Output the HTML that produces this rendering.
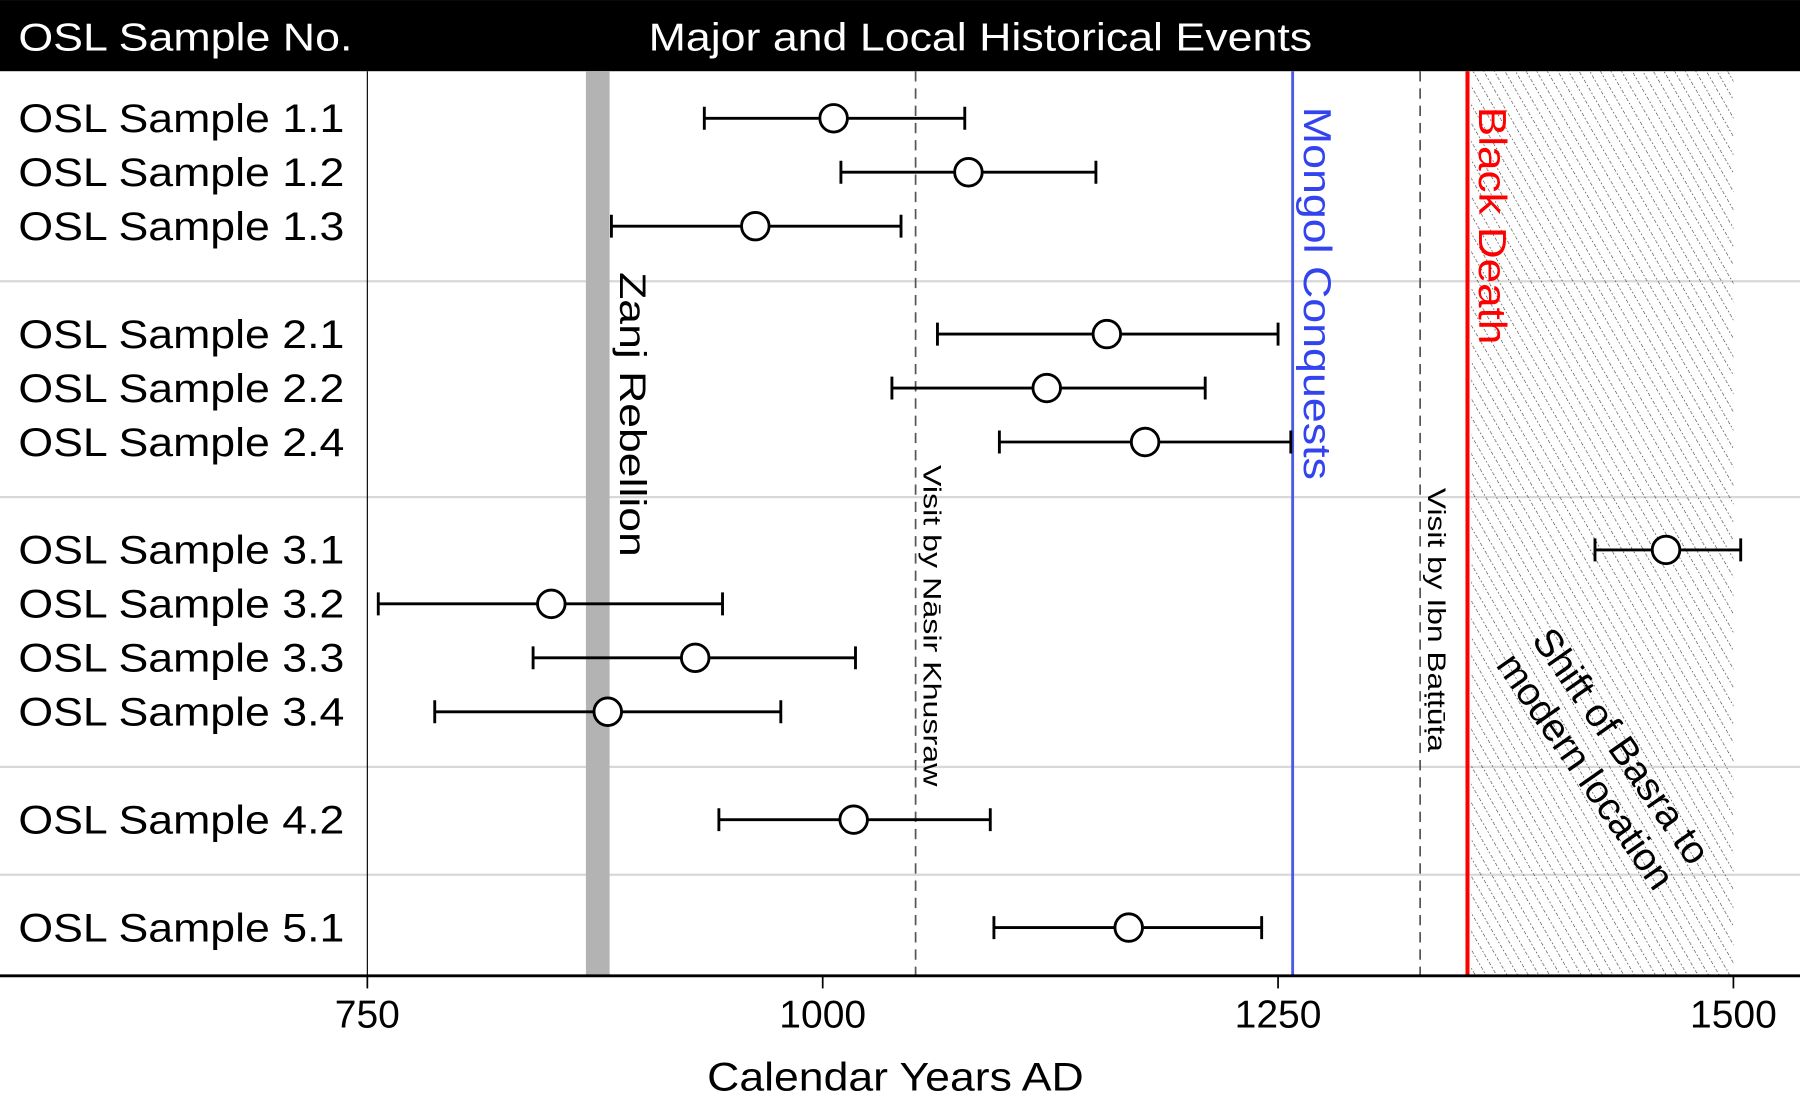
<!DOCTYPE html>
<html><head><meta charset="utf-8"><style>
html,body{margin:0;padding:0;background:#fff}
svg{display:block}
text{font-family:"Liberation Sans",Arial,sans-serif}
</style></head><body>
<svg id="chart" width="1800" height="1109" viewBox="0 0 1568 966" xmlns="http://www.w3.org/2000/svg">
<defs>
<pattern id="hatch" patternUnits="userSpaceOnUse" width="8" height="8" patternTransform="rotate(-30)">
<line x1="0" y1="0" x2="0" y2="8" stroke="#222" stroke-width="1.1" stroke-dasharray="1.3,1.9"/>
</pattern>
</defs>
<rect x="0" y="0" width="1568" height="62" fill="#000"/>
<text x="16" y="44" font-size="34" fill="#fff" textLength="291" lengthAdjust="spacingAndGlyphs">OSL Sample No.</text>
<text x="565" y="44" font-size="34" fill="#fff" textLength="578" lengthAdjust="spacingAndGlyphs">Major and Local Historical Events</text>
<g id="grid"></g>
<g id="events"></g>
<g id="marks"></g>
<g id="axis"></g>
</svg>
<script>
const samples = ["OSL Sample 1.1","OSL Sample 1.2","OSL Sample 1.3","OSL Sample 2.1","OSL Sample 2.2","OSL Sample 2.4","OSL Sample 3.1","OSL Sample 3.2","OSL Sample 3.3","OSL Sample 3.4","OSL Sample 4.2","OSL Sample 5.1"];
const ages = [1006,1080,963,1156,1123,1177,1463,851,930,882,1017,1168];
const lowers = [935,1010,884,1063,1038,1097,1424,756,841,787,943,1094];
const uppers = [1078,1150,1043,1250,1210,1257,1504,945,1018,977,1092,1241];
const groups = [1,1,1,2,2,2,3,3,3,3,4,5];
const xTicks = [750,1000,1250,1500];
const zanj = [870,883];
const nasir = 1051;
const mongol = 1258;
const ibn = 1328;
const blackDeath = 1354;
const basraShift = [1356,1500];

const NS="http://www.w3.org/2000/svg";
const X0=320, X1=1510, Y0=750, Y1=1500;
function xs(v){return X0+(v-Y0)*(X1-X0)/(Y1-Y0);}
const rowStep=47, groupGap=47, topY=103;
function ys(i){return topY + i*rowStep + (groups[i]-1)*groupGap;}
function mk(parent,tag,attrs){const e=document.createElementNS(NS,tag);for(const k in attrs)e.setAttribute(k,attrs[k]);document.getElementById(parent).appendChild(e);return e;}

for(let g=1;g<5;g++){
  let last=-1;groups.forEach((gg,i)=>{if(gg===g)last=i;});
  const y=ys(last)+rowStep+1;
  const l=mk('grid','line',{x1:0,x2:1568,y1:y,y2:y,stroke:'#d8d8d8','stroke-width':2});
  
  
}
const la=mk('grid','line',{x1:X0,x2:X0,y1:62,y2:850,stroke:'#000','stroke-width':1});



let r=mk('events','rect',{x:xs(basraShift[0]),y:62,width:xs(basraShift[1])-xs(basraShift[0]),height:788,fill:'url(#hatch)'});


r=mk('events','rect',{x:xs(zanj[0]),y:62,width:xs(zanj[1])-xs(zanj[0]),height:788,fill:'#b3b3b3'});


let l=mk('events','line',{x1:xs(nasir),x2:xs(nasir),y1:62,y2:850,stroke:'#555','stroke-width':1.5,'stroke-dasharray':'9,6'});


l=mk('events','line',{x1:xs(ibn),x2:xs(ibn),y1:62,y2:850,stroke:'#555','stroke-width':1.5,'stroke-dasharray':'9,6'});


l=mk('events','line',{x1:xs(mongol),x2:xs(mongol),y1:62,y2:850,stroke:'#4b5be8','stroke-width':2.5});


l=mk('events','line',{x1:xs(blackDeath),x2:xs(blackDeath),y1:62,y2:850,stroke:'#f00','stroke-width':3.5});



function vtext(name,txt,x,y,size,color,len){
  const t=mk('events','text',{x:0,y:0,'font-size':size,fill:color,textLength:len,lengthAdjust:'spacingAndGlyphs',transform:`translate(${x},${y}) rotate(90)`});
  t.textContent=txt;
  
  
  return t;
}
vtext('zanj-rebellion-label','Zanj Rebellion',xs(zanj[1])+9,237,32,'#000',248);
vtext('nasir-khusraw-label','Visit by Nāsir Khusraw',xs(nasir)+7,405,22,'#000',280);
vtext('mongol-conquests-label','Mongol Conquests',xs(mongol)+10,93,34,'#3344ee',325);
vtext('ibn-battuta-label','Visit by Ibn Baṭṭūṭa',xs(ibn)+7,425,22,'#000',230);
vtext('black-death-label','Black Death',xs(blackDeath)+10,93,34,'#f00',207);
let bt=mk('events','text',{x:0,y:0,'font-size':34,fill:'#000','text-anchor':'middle',transform:'translate(1398,660) rotate(55)'});


const ts1=document.createElementNS(NS,'tspan');ts1.setAttribute('x',0);ts1.setAttribute('dy','-6');ts1.textContent='Shift of Basra to';bt.appendChild(ts1);
const ts2=document.createElementNS(NS,'tspan');ts2.setAttribute('x',0);ts2.setAttribute('dy','38');ts2.textContent='modern location';bt.appendChild(ts2);

samples.forEach((s,i)=>{
  const y=ys(i);
  const lab=mk('marks','text',{x:16,y:y+12,'font-size':35,fill:'#000',textLength:284,lengthAdjust:'spacingAndGlyphs'});
  lab.textContent=s;
  
  
  const e=mk('marks','path',{d:`M${xs(lowers[i])},${y}H${xs(uppers[i])}M${xs(lowers[i])},${y-10}V${y+10}M${xs(uppers[i])},${y-10}V${y+10}`,stroke:'#000','stroke-width':2.5,fill:'none'});
  
  
  const c=mk('marks','circle',{cx:xs(ages[i]),cy:y,r:12,fill:'#fff',stroke:'#000','stroke-width':2.5});
  
  
});

const ax=mk('axis','line',{x1:0,x2:1568,y1:850,y2:850,stroke:'#000','stroke-width':2.5});


xTicks.forEach(v=>{
  const t=mk('axis','line',{x1:xs(v),x2:xs(v),y1:850,y2:861,stroke:'#000','stroke-width':1.5});
  
  
  const tl=mk('axis','text',{x:xs(v),y:895,'font-size':34,'text-anchor':'middle',fill:'#000'});
  tl.textContent=v;
  
  
});
const at=mk('axis','text',{x:616,y:950,'font-size':35,fill:'#000',textLength:328,lengthAdjust:'spacingAndGlyphs'});
at.textContent='Calendar Years AD';


</script>
</body></html>
